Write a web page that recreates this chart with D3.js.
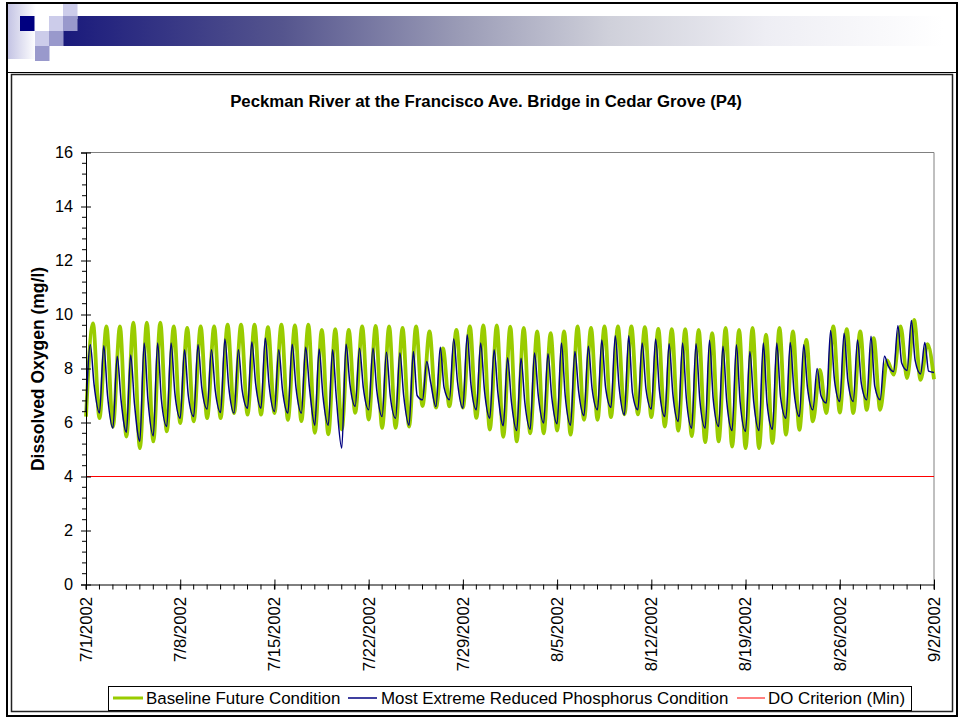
<!DOCTYPE html>
<html><head><meta charset="utf-8">
<script src="https://cdn.jsdelivr.net/npm/d3@7"></script>
<style>body{margin:0;background:#fff}svg{display:block;font-family:Arial,"Liberation Sans",sans-serif}</style>
</head><body><svg id="c" width="964" height="721"></svg>
<script>
// ---- data ----
const startDate = "7/1/2002";
const endDate = "9/2/2002";
const tickLabels = ["7/1/2002","7/8/2002","7/15/2002","7/22/2002","7/29/2002","8/5/2002","8/12/2002","8/19/2002","8/26/2002","9/2/2002"];
const yTicks = [0,2,4,6,8,10,12,14,16];
const criterion = 4;
// Baseline Future Condition: daily maxima (afternoon) and minima (around midnight, day boundaries)
const greenPeaks = [9.67,9.56,9.56,9.7,9.7,9.7,9.56,9.5,9.56,9.56,9.62,9.62,9.62,9.53,9.62,9.6,
 9.62,9.43,9.46,9.43,9.56,9.58,9.56,9.5,9.56,9.37,8.74,9.43,9.56,9.6,9.6,
 9.55,9.5,9.37,9.31,9.37,9.56,9.5,9.56,9.56,9.56,9.53,9.47,9.46,9.46,9.43,9.31,
 9.5,9.43,9.5,9.25,9.5,9.37,9.06,7.95,9.56,9.46,9.37,9.12,8.3,9.56,9.8,8.9];
const greenTroughs = [6.22,6.16,5.85,5.48,5.05,5.3,5.67,5.98,6.04,6.16,6.16,6.35,6.29,6.29,6.35,6.1,
 6.05,5.62,5.56,5.75,6.36,6.11,5.8,5.8,5.85,6.61,6.55,6.6,6.55,6.17,5.74,
 5.47,5.3,5.6,5.6,5.7,5.55,6.1,6.1,6.2,6.3,6.3,6.2,5.85,5.7,5.5,5.27,
 5.3,5.11,5.05,5.05,5.24,5.55,5.73,6.04,6.35,6.37,6.35,6.47,6.47,7.77,7.64,7.58,7.6];
// Most Extreme Reduced Phosphorus Condition: daily spike, afternoon shoulder, night minimum
const bluePeaks = [8.88,8.84,8.45,8.5,8.94,8.94,8.94,8.69,8.88,8.69,9.09,8.69,8.98,9.13,8.69,8.9,
 8.79,8.72,8.69,8.9,8.75,8.75,8.6,8.57,8.63,8.26,8.79,9.09,9.25,8.94,8.69,
 8.4,8.38,8.57,8.55,8.94,8.63,8.82,9.06,9.21,9.21,8.94,9.09,8.92,8.94,8.92,9.05,
 8.82,8.88,8.63,8.94,8.94,8.96,8.88,8.0,9.41,9.31,9.06,9.19,8.45,9.58,9.78,8.96];
const blueShoulders = [7.4,7.0,6.85,6.7,6.85,6.85,7.1,7.0,7.3,7.2,7.35,7.2,7.45,7.4,7.2,7.3,
 7.3,7.0,6.9,7.45,7.3,7.2,7.0,7.0,7.0,7.5,7.3,7.5,7.4,7.2,7.1,
 6.8,6.75,7.0,6.95,7.0,7.15,7.25,7.3,7.35,7.1,7.25,7.2,7.05,6.9,6.85,6.85,
 6.8,6.75,6.8,6.7,6.95,7.15,7.3,7.0,7.6,7.55,7.45,7.35,8.1,8.2,8.3,7.9];
const blueTroughs = [6.4,6.35,5.79,5.64,5.3,5.5,5.85,6.16,6.22,6.5,6.37,6.35,6.53,6.53,6.41,6.35,
 6.35,5.9,5.9,5.05,6.6,6.47,6.22,6.16,5.9,6.84,6.59,6.84,6.53,6.47,6.16,
 5.88,5.7,5.75,5.98,5.95,5.9,6.25,6.47,6.56,6.28,6.47,6.5,6.22,6.04,5.79,5.79,
 5.85,5.7,5.67,5.7,5.75,6.16,6.22,6.47,6.72,6.78,6.78,6.84,6.84,7.89,7.93,7.8,7.85];
// time of day (fraction of day) of the daily features
const GREEN_PEAK_T = 0.52, BLUE_PEAK_T = 0.32, BLUE_SHOULDER_T = 0.6;

const title = "Peckman River at the Francisco Ave. Bridge in Cedar Grove (P4)";
const yTitle = "Dissolved Oxygen (mg/l)";
const seriesNames = ["Baseline Future Condition","Most Extreme Reduced Phosphorus Condition","DO Criterion (Min)"];
const colors = ["#99CC00","#000080","#FF0000"];

// ---- build ----
const parse = d3.utcParse("%m/%d/%Y");
const t0 = parse(startDate), t1 = parse(endDate);
const DAY = 86400000;
const at = t => new Date(t0.getTime() + t*DAY);

const greenData = [];
greenTroughs.forEach((v,n)=>{
  greenData.push({d:at(n), v});
  if (n < greenPeaks.length) greenData.push({d:at(n+GREEN_PEAK_T), v:greenPeaks[n]});
});
const blueData = [{d:at(0), v:blueTroughs[0]}];
bluePeaks.forEach((p,i)=>{
  blueData.push({d:at(i+BLUE_PEAK_T), v:p});
  blueData.push({d:at(i+BLUE_SHOULDER_T), v:blueShoulders[i]});
  blueData.push({d:at(i+1), v:blueTroughs[i+1]});
});

const svg = d3.select("#c");
const defs = svg.append("defs");
const gb = defs.append("linearGradient").attr("id","bar").attr("x1",0).attr("x2",1).attr("y1",0).attr("y2",0);
[[0,"#1a1a7c"],[0.25,"#55558e"],[0.45,"#9a9bb6"],[0.62,"#cfd0da"],[0.8,"#eeeef4"],[1,"#ffffff"]]
  .forEach(([o,c])=>gb.append("stop").attr("offset",o).attr("stop-color",c));
const gp = defs.append("linearGradient").attr("id","pale").attr("x1",0).attr("x2",1).attr("y1",0).attr("y2",0);
[[0,"#c4c4e4"],[1,"#ffffff"]].forEach(([o,c])=>gp.append("stop").attr("offset",o).attr("stop-color",c));

// header decoration
svg.append("rect").attr("x",8).attr("y",4).attr("width",28).attr("height",55).attr("fill","url(#pale)");
svg.append("rect").attr("x",63).attr("y",16).attr("width",880).attr("height",30).attr("fill","url(#bar)");
const sq = [[63,4,"#ccccea"],[20,16,"#000080"],[49,16,"#ccccea"],[63,16,"#9999cc"],[35,31,"#ccccea"],[49,31,"#9999cc"],[35,46,"#9999cc"]];
sq.forEach(([x,y,c])=>svg.append("rect").attr("x",x).attr("y",y).attr("width",14.5).attr("height",15).attr("fill",c));

// frames
svg.append("rect").attr("x",7).attr("y",3).attr("width",950).attr("height",713)
  .attr("fill","none").attr("stroke","#000").attr("stroke-width",2);
svg.append("rect").attr("x",11.5).attr("y",74.5).attr("width",941).attr("height",637)
  .attr("fill","none").attr("stroke","#222").attr("stroke-width",1.5);
svg.append("line").attr("x1",7).attr("x2",957).attr("y1",72.5).attr("y2",72.5).attr("stroke","#000").attr("stroke-width",1);

// scales
const x = d3.scaleUtc().domain([t0,t1]).range([86,934]);
const y = d3.scaleLinear().domain([0,16]).range([584.5,152.5]);

// plot border (top/right)
svg.append("path").attr("d",`M86,${y(16)}H${x(t1)}V${y(0)}`).attr("fill","none").attr("stroke","#808080").attr("stroke-width",1);

// criterion
svg.append("line").attr("x1",x(t0)).attr("x2",x(t1)).attr("y1",y(criterion)).attr("y2",y(criterion))
  .attr("stroke",colors[2]).attr("stroke-width",1);

// series
const line = d3.line().x(d=>x(d.d)).y(d=>y(d.v)).curve(d3.curveMonotoneX);
svg.append("path").datum(greenData).attr("d",line).attr("fill","none").attr("stroke",colors[0]).attr("stroke-width",3.8).attr("stroke-linejoin","round");
svg.append("path").datum(blueData).attr("d",line).attr("fill","none").attr("stroke",colors[1]).attr("stroke-width",1.5).attr("stroke-linejoin","round");

// y axis
const minorY = d3.range(0,16.001,0.4).filter(v=>Math.abs(v/2-Math.round(v/2))>1e-6);
const yAx = svg.append("g").attr("transform","translate(86,0)")
  .call(d3.axisLeft(y).tickValues(yTicks).tickSize(5).tickPadding(8).tickFormat(d3.format("d")));
yAx.select(".domain").attr("stroke","#000");
yAx.selectAll(".tick line").attr("x1",5).attr("x2",-5).attr("stroke","#000");
yAx.selectAll(".tick text").attr("font-size",16.3).attr("font-family","Arial, 'Liberation Sans', sans-serif").attr("fill","#000");
yAx.selectAll(".minor").data(minorY).enter().append("line").attr("class","minor")
  .attr("x1",-4).attr("x2",0).attr("y1",d=>y(d)).attr("y2",d=>y(d)).attr("stroke","#000");

// x axis
const tickDates = tickLabels.map(parse);
const days = d3.utcDay.range(t0, new Date(t1.getTime()+1));
const xAx = svg.append("g").attr("transform",`translate(0,${y(0)})`)
  .call(d3.axisBottom(x).tickValues(tickDates).tickSize(5).tickFormat(""));
xAx.select(".domain").attr("stroke","#000");
xAx.selectAll(".tick line").attr("y1",-5).attr("y2",5).attr("stroke","#000");
xAx.selectAll(".minor").data(days).enter().append("line").attr("class","minor")
  .attr("x1",d=>x(d)).attr("x2",d=>x(d)).attr("y1",0).attr("y2",5).attr("stroke","#000");
svg.selectAll(".xlab").data(tickDates).enter().append("text").attr("class","xlab")
  .attr("transform",d=>`translate(${x(d)},597) rotate(-90)`)
  .attr("text-anchor","end").attr("dy","0.35em").attr("font-size",16.7).attr("fill","#000")
  .text((d,i)=>tickLabels[i]);

// titles
svg.append("text").attr("x",486).attr("y",107).attr("text-anchor","middle").attr("font-size",16.8)
  .attr("font-weight","bold").text(title);
svg.append("text").attr("transform","translate(44,369) rotate(-90)").attr("text-anchor","middle")
  .attr("font-size",17.5).attr("font-weight","bold").text(yTitle);

// legend
svg.append("rect").attr("x",108.5).attr("y",686.5).attr("width",803).attr("height",24)
  .attr("fill","#fff").attr("stroke","#000").attr("stroke-width",1);
const legX = [[113,143,146],[348,377,381],[737,765,768]];
const legW = [3,1.5,1];
seriesNames.forEach((s,i)=>{
  svg.append("line").attr("x1",legX[i][0]).attr("x2",legX[i][1]).attr("y1",698).attr("y2",698)
    .attr("stroke",colors[i]).attr("stroke-width",legW[i]);
  svg.append("text").attr("x",legX[i][2]).attr("y",704).attr("font-size",16.9).attr("fill","#000").text(s);
});
</script></body></html>
